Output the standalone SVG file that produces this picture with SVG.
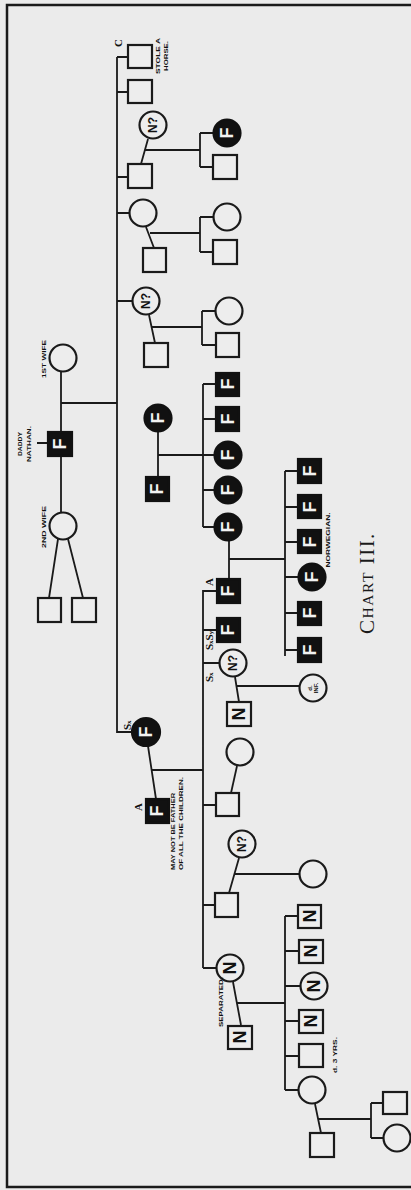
<svg xmlns="http://www.w3.org/2000/svg" width="411" height="1190" viewBox="0 0 411 1190">
<style>
.bg{fill:#ebebeb}
.frame{fill:none;stroke:#1a1a1a;stroke-width:2.5}
.ln{fill:none;stroke:#1a1a1a;stroke-width:1.8}
.o{fill:#ededed;stroke:#1a1a1a;stroke-width:2.2}
.f{fill:#111;stroke:#111;stroke-width:2.2}
.sym{font-family:"Liberation Sans",Arial,sans-serif;font-weight:bold;font-size:18px;text-anchor:middle;dominant-baseline:central}
.w{fill:#f2f2f2}
.k{fill:#111}
.q{font-size:12px}
.lab{font-family:"Liberation Sans",Arial,sans-serif;font-weight:bold;font-size:6px;fill:#111;dominant-baseline:central}
.sx{font-family:"Liberation Serif","Times New Roman",serif;font-size:11px;font-weight:bold;fill:#111;dominant-baseline:central}
.title{font-family:"Liberation Serif","Times New Roman",serif;fill:#1a1a1a;text-anchor:middle;dominant-baseline:central;letter-spacing:1.5px}
</style>
<rect class="bg" x="0" y="0" width="411" height="1190"/>
<path class="frame" d="M411,5 H7 V1187 H411"/>

<g id="connectors">
  <path class="ln" d="M61,371 V431 M61,403 H117 M61,457 V513 M37,443 H48 M58,539 L49,598 M68,539 L83,598"/>
  <path class="ln" d="M117,57 V732 H132 M117,57 H128 M117,92 H128 M117,177 H128 M117,213 H129 M117,301 H132"/>
  <path class="ln" d="M141,164 L148,139 M145,150 H200 M200,133 V167 M200,133 H213 M200,167 H213"/>
  <path class="ln" d="M146,227 L154,248 M150,233 H200 M200,217 V252 M200,217 H213 M200,252 H213"/>
  <path class="ln" d="M149,315 L155,343 M152,327 H202 M202,311 V345 M202,311 H215 M202,345 H216"/>
  <path class="ln" d="M158,432 V477 M158,455 H203 M203,384 V527 M203,384 H216 M203,419 H216 M203,455 H214 M203,490 H214 M203,527 H214"/>
  <path class="ln" d="M148,746 L156,799 M152,770 H203 M203,590 V968 M203,591 H216 M203,630 H216 M203,663 H219 M203,805 H216 M203,905 H215 M203,968 H216"/>
  <path class="ln" d="M229,541 V579 M229,559 H285 M285,471 V656 M285,471 H298 M285,507 H298 M285,542 H298 M285,577 H298 M285,613 H298 M285,650 H298"/>
  <path class="ln" d="M235,677 L239,702 M237,686 H299"/>
  <path class="ln" d="M231,793 L237,766"/>
  <path class="ln" d="M229,893 L239,858 M234,874 H299"/>
  <path class="ln" d="M233,982 L241,1025 M237,1003 H285 M285,916 V1090 M285,916 H298 M285,951 H299 M285,986 H300 M285,1021 H299 M285,1056 H299 M285,1090 H298"/>
  <path class="ln" d="M315,1104 L321,1133 M318,1119 H371 M371,1103 V1138 M371,1103 H383 M371,1138 H383"/>
</g>

<g id="wife1"><circle class="o" cx="63" cy="358" r="13.5"/><text class="lab" x="44" y="359" text-anchor="middle" transform="rotate(-90 44 359)" textLength="38" lengthAdjust="spacingAndGlyphs">1ST WIFE</text></g>
<g id="nathan"><rect class="f" x="48" y="432" width="24" height="24"/><text class="sym w" x="60" y="444" transform="rotate(-90 60 444)">F</text>
<text class="lab" x="20" y="444" text-anchor="middle" transform="rotate(-90 20 444)" textLength="24" lengthAdjust="spacingAndGlyphs">DADDY</text>
<text class="lab" x="28.5" y="444" text-anchor="middle" transform="rotate(-90 28.5 444)" textLength="36" lengthAdjust="spacingAndGlyphs">NATHAN.</text></g>
<g id="wife2"><circle class="o" cx="63" cy="526" r="13.5"/><text class="lab" x="44" y="527" text-anchor="middle" transform="rotate(-90 44 527)" textLength="42" lengthAdjust="spacingAndGlyphs">2ND WIFE</text></g>
<g id="w2son1"><rect class="o" x="38" y="598" width="23" height="24"/></g>
<g id="w2son2"><rect class="o" x="72" y="598" width="24" height="24"/></g>

<g id="c1"><rect class="o" x="128" y="45" width="24" height="23"/>
<text class="sx" x="118" y="43" text-anchor="middle" transform="rotate(-90 118 43)" font-size="9">C</text>
<text class="lab" x="157.5" y="56" text-anchor="middle" transform="rotate(-90 157.5 56)" textLength="36" lengthAdjust="spacingAndGlyphs">STOLE A</text>
<text class="lab" x="166" y="56" text-anchor="middle" transform="rotate(-90 166 56)" textLength="30" lengthAdjust="spacingAndGlyphs">HORSE.</text></g>
<g id="c2"><rect class="o" x="128" y="80" width="24" height="23"/></g>
<g id="c3"><rect class="o" x="128" y="164" width="24" height="24"/></g>
<g id="c3sp"><circle class="o" cx="153" cy="125" r="13.5"/><text class="sym k q" x="153" y="125" transform="rotate(-90 153 125)">N?</text></g>
<g id="c3k1"><circle class="f" cx="227" cy="133" r="13.5"/><text class="sym w" x="227" y="133" transform="rotate(-90 227 133)">F</text></g>
<g id="c3k2"><rect class="o" x="213" y="155" width="24" height="24"/></g>
<g id="c4"><circle class="o" cx="143" cy="213" r="13.5"/></g>
<g id="c4sp"><rect class="o" x="143" y="248" width="23" height="24"/></g>
<g id="c4k1"><circle class="o" cx="227" cy="217" r="13.5"/></g>
<g id="c4k2"><rect class="o" x="213" y="240" width="24" height="24"/></g>
<g id="c5"><circle class="o" cx="146" cy="301" r="13.5"/><text class="sym k q" x="146" y="301" transform="rotate(-90 146 301)">N?</text></g>
<g id="c5sp"><rect class="o" x="144" y="343" width="24" height="24"/></g>
<g id="c5k1"><circle class="o" cx="229" cy="311" r="13.5"/></g>
<g id="c5k2"><rect class="o" x="216" y="333" width="23" height="24"/></g>

<g id="p6w"><circle class="f" cx="158" cy="418" r="13.5"/><text class="sym w" x="158" y="418" transform="rotate(-90 158 418)">F</text></g>
<g id="p6h"><rect class="f" x="146" y="477" width="23" height="24"/><text class="sym w" x="157" y="489" transform="rotate(-90 157 489)">F</text></g>
<g id="p6k1"><rect class="f" x="216" y="373" width="23" height="23"/><text class="sym w" x="228" y="384" transform="rotate(-90 228 384)">F</text></g>
<g id="p6k2"><rect class="f" x="216" y="407" width="23" height="24"/><text class="sym w" x="228" y="419" transform="rotate(-90 228 419)">F</text></g>
<g id="p6k3"><circle class="f" cx="228" cy="455" r="13.5"/><text class="sym w" x="228" y="455" transform="rotate(-90 228 455)">F</text></g>
<g id="p6k4"><circle class="f" cx="228" cy="490" r="13.5"/><text class="sym w" x="228" y="490" transform="rotate(-90 228 490)">F</text></g>
<g id="p6k5"><circle class="f" cx="228" cy="527" r="13.5"/><text class="sym w" x="228" y="527" transform="rotate(-90 228 527)">F</text></g>

<g id="sx"><circle class="f" cx="146" cy="732" r="14"/><text class="sym w" x="146" y="732" transform="rotate(-90 146 732)">F</text>
<text class="sx" x="127" y="730" text-anchor="start" transform="rotate(-90 127 730)">S<tspan font-size="7" dy="1.5">x</tspan></text></g>
<g id="ahus"><rect class="f" x="146" y="799" width="23" height="24"/><text class="sym w" x="157" y="811" transform="rotate(-90 157 811)">F</text>
<text class="sx" x="138" y="807" text-anchor="middle" transform="rotate(-90 138 807)" font-size="10">A</text>
<text class="lab" x="173" y="870" text-anchor="start" transform="rotate(-90 173 870)" textLength="77" lengthAdjust="spacingAndGlyphs">MAY NOT BE FATHER</text>
<text class="lab" x="181" y="870" text-anchor="start" transform="rotate(-90 181 870)" textLength="93" lengthAdjust="spacingAndGlyphs">OF ALL THE CHILDREN.</text></g>

<g id="k1"><rect class="f" x="217" y="579" width="23" height="24"/><text class="sym w" x="228" y="591" transform="rotate(-90 228 591)">F</text>
<text class="sx" x="209" y="582" text-anchor="middle" transform="rotate(-90 209 582)" font-size="9">A</text></g>
<g id="k2"><rect class="f" x="217" y="618" width="23" height="24"/><text class="sym w" x="228" y="630" transform="rotate(-90 228 630)">F</text>
<text class="sx" x="209" y="650" text-anchor="start" transform="rotate(-90 209 650)">S<tspan font-size="7" dy="1.5">x</tspan><tspan dy="-1.5">S</tspan><tspan font-size="7" dy="1.5">y</tspan></text></g>
<g id="k3"><circle class="o" cx="233" cy="663" r="13.5"/><text class="sym k q" x="233" y="663" transform="rotate(-90 233 663)">N?</text>
<text class="sx" x="209" y="682" text-anchor="start" transform="rotate(-90 209 682)">S<tspan font-size="7" dy="1.5">x</tspan></text></g>
<g id="k3sp"><rect class="o" x="227" y="702" width="24" height="24"/><text class="sym k" x="239" y="714" transform="rotate(-90 239 714)">N</text></g>
<g id="k3kid"><circle class="o" cx="313" cy="688" r="13.5"/>
<text class="lab" x="310" y="688" text-anchor="middle" transform="rotate(-90 310 688)" font-size="4">d.</text>
<text class="lab" x="315.5" y="688" text-anchor="middle" transform="rotate(-90 315.5 688)" font-size="4">INF.</text></g>
<g id="k4sp"><circle class="o" cx="240" cy="752" r="13.5"/></g>
<g id="k4"><rect class="o" x="216" y="793" width="23" height="23"/></g>
<g id="k5sp"><circle class="o" cx="242" cy="844" r="13.5"/><text class="sym k q" x="242" y="844" transform="rotate(-90 242 844)">N?</text></g>
<g id="k5"><rect class="o" x="215" y="893" width="23" height="24"/></g>
<g id="k5kid"><circle class="o" cx="313" cy="874" r="13.5"/></g>
<g id="k6"><circle class="o" cx="230" cy="968" r="13.5"/><text class="sym k" x="230" y="968" transform="rotate(-90 230 968)">N</text>
<text class="lab" x="221" y="1002" text-anchor="middle" transform="rotate(-90 221 1002)" textLength="50" lengthAdjust="spacingAndGlyphs">SEPARATED.</text></g>
<g id="k6sp"><rect class="o" x="228" y="1026" width="24" height="23"/><text class="sym k" x="240" y="1037" transform="rotate(-90 240 1037)">N</text></g>

<g id="n1"><rect class="f" x="298" y="459" width="23" height="24"/><text class="sym w" x="310" y="471" transform="rotate(-90 310 471)">F</text></g>
<g id="n2"><rect class="f" x="298" y="495" width="23" height="23"/><text class="sym w" x="310" y="507" transform="rotate(-90 310 507)">F</text></g>
<g id="n3"><rect class="f" x="298" y="530" width="23" height="23"/><text class="sym w" x="310" y="542" transform="rotate(-90 310 542)">F</text>
<text class="lab" x="328" y="540" text-anchor="middle" transform="rotate(-90 328 540)" textLength="55" lengthAdjust="spacingAndGlyphs">NORWEGIAN.</text></g>
<g id="n4"><circle class="f" cx="312" cy="577" r="13.5"/><text class="sym w" x="312" y="577" transform="rotate(-90 312 577)">F</text></g>
<g id="n5"><rect class="f" x="298" y="602" width="23" height="23"/><text class="sym w" x="310" y="613" transform="rotate(-90 310 613)">F</text></g>
<g id="n6"><rect class="f" x="298" y="638" width="23" height="24"/><text class="sym w" x="310" y="650" transform="rotate(-90 310 650)">F</text></g>

<g id="s1"><rect class="o" x="298" y="905" width="23" height="23"/><text class="sym k" x="310" y="916" transform="rotate(-90 310 916)">N</text></g>
<g id="s2"><rect class="o" x="299" y="940" width="24" height="23"/><text class="sym k" x="311" y="951" transform="rotate(-90 311 951)">N</text></g>
<g id="s3"><circle class="o" cx="314" cy="986" r="13.5"/><text class="sym k" x="314" y="986" transform="rotate(-90 314 986)">N</text></g>
<g id="s4"><rect class="o" x="299" y="1010" width="24" height="23"/><text class="sym k" x="311" y="1021" transform="rotate(-90 311 1021)">N</text></g>
<g id="s5"><rect class="o" x="299" y="1044" width="24" height="23"/>
<text class="lab" x="335" y="1073" text-anchor="start" transform="rotate(-90 335 1073)" textLength="36" lengthAdjust="spacingAndGlyphs">d. 3 YRS.</text></g>
<g id="s6"><circle class="o" cx="312" cy="1090" r="13.5"/></g>
<g id="s6sp"><rect class="o" x="310" y="1133" width="24" height="24"/></g>
<g id="g1"><rect class="o" x="383" y="1092" width="24" height="22"/></g>
<g id="g2"><circle class="o" cx="397" cy="1138" r="13.5"/></g>

<g id="title"><text class="title" x="367" y="583" transform="rotate(-90 367 583)"><tspan font-size="21">C</tspan><tspan font-size="15.5">HART</tspan><tspan font-size="21"> III.</tspan></text></g>
</svg>
